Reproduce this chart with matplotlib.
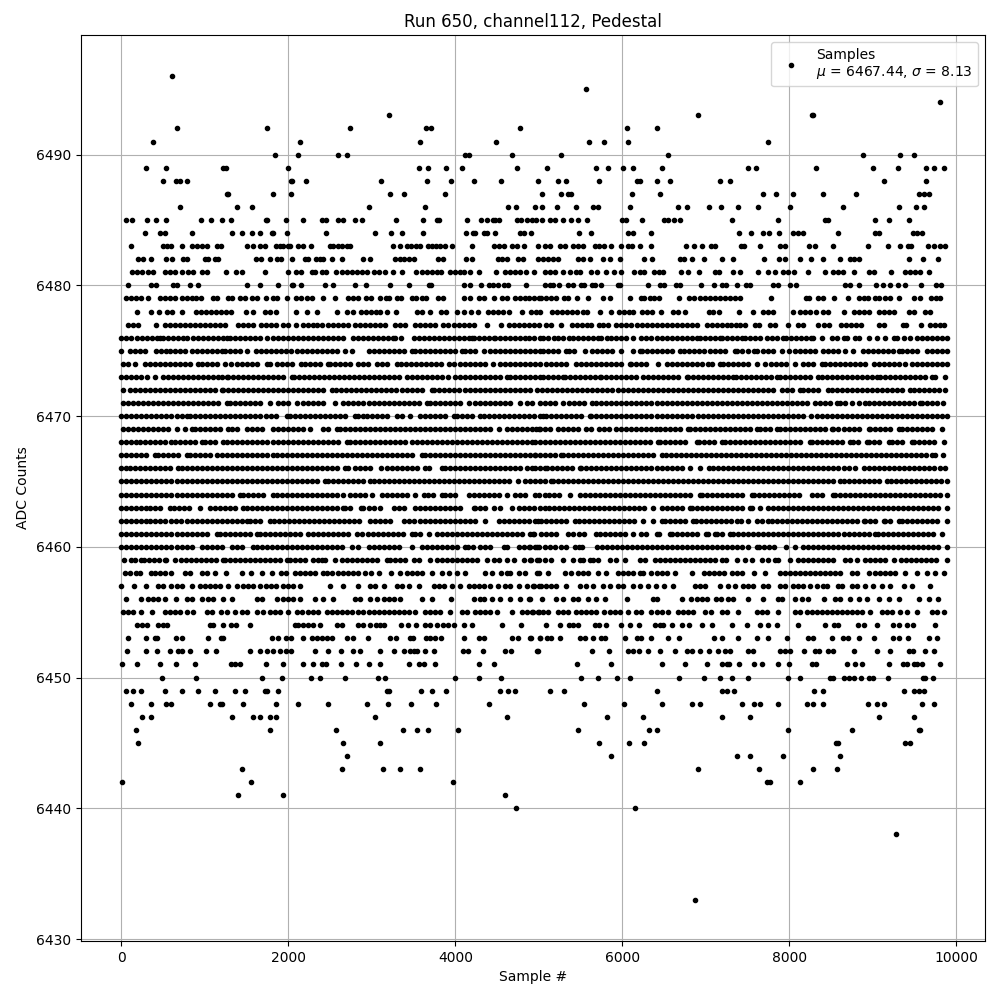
import matplotlib
matplotlib.use("Agg")
import matplotlib.pyplot as plt

# sample numbers in tens of samples, one list per ADC level
x_6496 = [61]
x_6495 = [556]
x_6494 = [981]
x_6493 = [320, 691, 827, 829]
x_6492 = [67, 175, 274, 365, 371, 478, 606, 642]
x_6491 = [38, 214, 358, 449, 560, 578, 607, 775]
x_6490 = [184, 212, 260, 270, 412, 416, 468, 526, 655, 888, 933, 950]
x_6489 = [29, 54, 122, 125, 199, 356, 367, 389, 408, 474, 510, 568, 583, 601, 613, 648, 751, 760, 832, 900, 930, 964, 974, 985]
x_6488 = [50, 65, 70, 78, 203, 204, 221, 311, 366, 395, 422, 455, 499, 523, 532, 572, 618, 621, 642, 657, 717, 729, 914, 964]
x_6487 = [126, 128, 181, 203, 322, 338, 388, 504, 526, 535, 538, 612, 645, 769, 784, 805, 841, 880, 956, 962, 968]
x_6486 = [70, 138, 156, 296, 364, 463, 473, 496, 504, 522, 544, 565, 571, 609, 667, 678, 704, 718, 739, 763, 801, 864, 932, 952, 961]
x_6485 = [6, 13, 31, 42, 53, 95, 107, 121, 131, 173, 174, 197, 217, 240, 245, 259, 265, 280, 288, 329, 361, 378, 380, 414, 431, 438, 445, 448, 452, 474, 479, 486, 492, 497, 504, 513, 519, 529, 538, 547, 558, 600, 605, 624, 650, 655, 662, 669, 732, 786, 843, 847, 903, 919, 944]
x_6484 = [28, 46, 52, 84, 132, 145, 157, 166, 180, 182, 198, 245, 304, 323, 336, 361, 413, 421, 424, 434, 438, 448, 478, 482, 491, 548, 562, 607, 613, 634, 740, 754, 768, 776, 788, 805, 811, 816, 859, 903, 907, 948, 953, 959]
x_6483 = [12, 50, 55, 60, 72, 85, 91, 97, 102, 114, 119, 151, 158, 166, 172, 185, 190, 194, 199, 202, 211, 218, 227, 250, 254, 259, 264, 270, 274, 325, 334, 342, 347, 353, 358, 367, 372, 377, 382, 388, 396, 420, 446, 452, 458, 468, 474, 482, 499, 508, 514, 525, 531, 541, 547, 553, 567, 572, 578, 586, 598, 607, 612, 621, 634, 676, 686, 696, 706, 711, 742, 746, 765, 789, 795, 824, 831, 852, 894, 918, 933, 942, 946, 966, 974, 980, 986]
x_6482 = [20, 26, 36, 53, 61, 74, 79, 100, 104, 112, 116, 161, 167, 178, 186, 191, 204, 220, 224, 233, 238, 242, 252, 264, 290, 298, 328, 334, 338, 344, 350, 379, 385, 413, 420, 451, 456, 462, 475, 481, 499, 505, 511, 517, 523, 547, 553, 561, 577, 585, 597, 626, 636, 669, 674, 684, 698, 720, 733, 770, 788, 795, 813, 826, 840, 861, 873, 878, 883, 943, 960, 978]
x_6481 = [13, 19, 25, 32, 38, 52, 58, 64, 73, 80, 86, 97, 102, 125, 137, 144, 172, 200, 209, 215, 228, 232, 240, 245, 257, 264, 270, 276, 282, 288, 294, 302, 308, 316, 325, 336, 353, 360, 366, 372, 378, 383, 394, 400, 406, 410, 418, 428, 449, 460, 466, 472, 478, 485, 494, 507, 513, 520, 529, 537, 544, 549, 562, 570, 580, 590, 598, 614, 621, 626, 638, 644, 649, 670, 679, 692, 711, 716, 733, 741, 763, 775, 783, 793, 798, 806, 822, 843, 853, 859, 864, 878, 895, 901, 922, 939, 945, 951, 957, 967]
x_6480 = [8, 35, 42, 62, 67, 82, 92, 150, 166, 187, 204, 206, 215, 244, 254, 280, 293, 322, 344, 368, 371, 410, 418, 431, 440, 445, 451, 458, 463, 485, 507, 513, 517, 524, 535, 541, 550, 554, 564, 567, 574, 595, 597, 631, 645, 650, 664, 669, 694, 710, 720, 724, 738, 748, 753, 780, 786, 801, 808, 867, 873, 883, 904, 912, 921, 930, 939, 958, 976, 982]
x_6479 = [6, 12, 18, 24, 32, 46, 52, 58, 64, 72, 78, 84, 89, 95, 110, 115, 128, 133, 142, 148, 157, 162, 173, 182, 186, 198, 209, 215, 222, 228, 241, 256, 272, 278, 284, 293, 299, 310, 317, 320, 330, 335, 348, 353, 360, 365, 379, 385, 410, 418, 428, 434, 446, 456, 462, 472, 478, 484, 488, 494, 500, 503, 509, 515, 521, 530, 535, 546, 559, 577, 585, 609, 622, 626, 633, 638, 644, 668, 680, 686, 693, 699, 705, 711, 717, 723, 729, 735, 741, 778, 820, 824, 834, 840, 854, 870, 883, 889, 894, 903, 907, 915, 921, 931, 949, 957, 970, 976, 980]
x_6478 = [19, 35, 45, 55, 61, 73, 89, 95, 101, 107, 113, 119, 125, 131, 149, 158, 172, 178, 185, 209, 222, 234, 258, 270, 277, 287, 293, 299, 305, 310, 318, 329, 354, 360, 370, 383, 389, 402, 410, 419, 427, 439, 445, 451, 457, 464, 480, 491, 497, 502, 516, 522, 528, 534, 540, 546, 553, 558, 573, 586, 596, 602, 608, 613, 624, 630, 636, 646, 661, 667, 675, 704, 709, 716, 740, 757, 768, 774, 780, 804, 813, 819, 825, 832, 841, 847, 865, 878, 884, 890, 895, 908, 914, 920, 926, 943, 949, 963, 969]
x_6477 = [8, 14, 20, 42, 52, 58, 64, 70, 76, 82, 88, 94, 100, 106, 112, 118, 124, 140, 146, 152, 158, 167, 173, 179, 185, 193, 199, 209, 217, 223, 229, 234, 240, 248, 254, 260, 266, 272, 280, 286, 292, 298, 304, 310, 316, 328, 334, 340, 352, 358, 364, 370, 376, 385, 391, 398, 404, 410, 416, 422, 438, 455, 464, 470, 476, 482, 488, 494, 500, 509, 515, 526, 540, 546, 552, 558, 562, 572, 577, 583, 592, 598, 604, 610, 618, 624, 630, 636, 642, 648, 654, 660, 666, 672, 678, 684, 690, 701, 707, 713, 719, 725, 730, 736, 741, 747, 759, 764, 777, 783, 799, 811, 817, 834, 842, 848, 862, 868, 874, 880, 886, 908, 914, 936, 940, 958, 969, 975, 981, 985]
x_6476 = [0, 6, 12, 19, 25, 31, 37, 43, 46, 50, 56, 62, 68, 74, 79, 86, 92, 98, 104, 110, 116, 122, 126, 130, 136, 142, 148, 154, 160, 166, 174, 182, 188, 194, 200, 206, 212, 218, 224, 230, 236, 242, 248, 254, 260, 266, 277, 283, 289, 295, 301, 307, 313, 319, 325, 328, 335, 350, 356, 362, 368, 374, 380, 386, 392, 398, 404, 410, 416, 420, 422, 428, 434, 440, 446, 448, 454, 460, 466, 472, 478, 484, 488, 494, 502, 505, 511, 518, 523, 529, 536, 541, 547, 553, 559, 565, 571, 575, 582, 587, 593, 599, 605, 613, 623, 629, 635, 641, 647, 653, 659, 665, 671, 677, 683, 689, 693, 699, 705, 711, 717, 720, 726, 732, 738, 744, 747, 753, 759, 765, 773, 779, 785, 793, 796, 802, 808, 814, 820, 826, 829, 839, 851, 857, 865, 869, 879, 883, 895, 905, 915, 925, 929, 937, 945, 953, 959, 965, 971, 977, 983, 989]
x_6475 = [0, 10, 16, 22, 28, 42, 48, 54, 58, 64, 70, 76, 84, 90, 96, 102, 108, 114, 120, 124, 130, 136, 142, 151, 161, 167, 173, 179, 185, 191, 197, 203, 210, 216, 222, 228, 234, 240, 246, 252, 258, 268, 276, 296, 302, 308, 314, 320, 326, 332, 338, 348, 352, 358, 364, 370, 376, 382, 388, 394, 400, 408, 412, 418, 424, 434, 442, 448, 454, 460, 466, 472, 478, 484, 490, 496, 502, 505, 511, 517, 523, 533, 536, 542, 555, 564, 570, 576, 582, 588, 599, 613, 621, 624, 630, 636, 642, 648, 654, 660, 669, 674, 680, 686, 692, 698, 705, 711, 717, 723, 735, 738, 744, 750, 758, 761, 768, 774, 780, 791, 800, 807, 813, 819, 825, 831, 840, 847, 853, 859, 867, 876, 888, 894, 900, 906, 912, 918, 924, 931, 935, 941, 947, 953, 965, 971, 977, 983, 989]
x_6474 = [2, 8, 16, 28, 34, 40, 46, 52, 58, 64, 70, 76, 82, 92, 96, 102, 108, 114, 124, 131, 138, 144, 150, 156, 162, 174, 178, 186, 192, 198, 204, 215, 220, 226, 232, 238, 248, 250, 256, 262, 268, 274, 284, 289, 295, 306, 312, 318, 330, 335, 341, 347, 353, 359, 365, 371, 377, 383, 392, 398, 406, 412, 418, 424, 430, 436, 445, 454, 460, 466, 472, 478, 484, 490, 496, 502, 509, 515, 521, 527, 533, 545, 550, 556, 562, 568, 574, 580, 586, 592, 598, 609, 611, 617, 623, 629, 643, 653, 659, 665, 671, 677, 683, 689, 695, 703, 707, 717, 721, 727, 733, 739, 745, 751, 761, 771, 778, 784, 790, 796, 807, 817, 823, 829, 839, 843, 849, 855, 861, 867, 873, 879, 885, 891, 901, 907, 913, 919, 925, 931, 939, 947, 953, 959, 965, 971, 977, 983, 989]
x_6473 = [0, 6, 12, 18, 24, 31, 40, 50, 56, 62, 68, 74, 80, 86, 92, 98, 104, 110, 116, 120, 126, 128, 134, 140, 146, 152, 158, 164, 170, 176, 182, 188, 194, 204, 207, 213, 219, 225, 231, 237, 243, 249, 255, 261, 267, 273, 279, 285, 291, 297, 303, 309, 315, 321, 327, 332, 342, 348, 354, 360, 366, 372, 378, 384, 391, 400, 406, 412, 418, 424, 430, 436, 442, 448, 454, 462, 466, 472, 478, 484, 490, 496, 502, 505, 511, 517, 523, 529, 531, 537, 543, 549, 555, 561, 567, 573, 575, 581, 587, 593, 599, 605, 611, 617, 625, 631, 637, 643, 649, 655, 661, 667, 677, 679, 685, 691, 697, 703, 709, 715, 721, 727, 733, 736, 742, 748, 754, 760, 766, 772, 778, 785, 789, 795, 801, 807, 813, 819, 825, 835, 839, 845, 851, 857, 863, 869, 875, 881, 887, 893, 899, 905, 909, 915, 921, 927, 933, 939, 945, 951, 957, 963, 971, 975, 987]
x_6472 = [2, 10, 16, 22, 28, 34, 40, 46, 52, 58, 64, 70, 76, 82, 88, 94, 100, 106, 112, 120, 122, 128, 134, 140, 146, 152, 158, 164, 170, 176, 182, 188, 194, 200, 206, 212, 218, 224, 230, 236, 242, 252, 257, 263, 269, 275, 281, 287, 293, 299, 305, 311, 317, 323, 329, 336, 342, 348, 354, 360, 372, 375, 381, 387, 393, 399, 405, 411, 417, 423, 429, 435, 441, 447, 453, 459, 465, 471, 477, 483, 489, 498, 504, 510, 516, 522, 528, 534, 540, 546, 552, 558, 564, 570, 576, 582, 588, 595, 601, 607, 613, 619, 625, 631, 637, 643, 649, 655, 661, 667, 673, 679, 685, 691, 697, 703, 709, 715, 721, 727, 733, 739, 745, 751, 757, 763, 769, 775, 781, 791, 797, 803, 813, 817, 823, 829, 835, 846, 851, 857, 863, 869, 875, 881, 887, 893, 899, 905, 911, 917, 923, 929, 935, 945, 949, 955, 961, 967, 973, 979, 987]
x_6471 = [2, 8, 14, 20, 26, 32, 38, 44, 50, 56, 62, 68, 74, 80, 86, 92, 98, 104, 110, 116, 126, 130, 136, 142, 148, 154, 160, 166, 178, 188, 194, 200, 210, 218, 224, 230, 236, 242, 256, 266, 272, 278, 284, 290, 296, 302, 308, 314, 320, 326, 332, 338, 344, 350, 356, 366, 370, 376, 382, 388, 394, 400, 406, 416, 424, 430, 436, 442, 448, 454, 460, 466, 478, 486, 492, 502, 508, 514, 520, 529, 536, 542, 548, 554, 564, 569, 575, 581, 587, 593, 599, 605, 611, 617, 623, 629, 635, 641, 647, 653, 659, 665, 671, 677, 683, 689, 695, 701, 707, 713, 719, 725, 731, 737, 743, 749, 755, 761, 767, 773, 779, 785, 791, 797, 803, 809, 815, 821, 831, 837, 843, 849, 857, 861, 867, 875, 883, 891, 895, 901, 907, 913, 919, 925, 931, 937, 943, 949, 957, 959, 965, 971, 977, 984]
x_6470 = [0, 6, 12, 18, 24, 30, 36, 42, 48, 54, 60, 66, 72, 78, 82, 88, 94, 100, 106, 112, 118, 124, 130, 136, 142, 148, 154, 160, 166, 173, 179, 185, 198, 202, 208, 214, 220, 226, 232, 238, 244, 250, 256, 262, 268, 280, 284, 290, 294, 300, 306, 312, 318, 330, 336, 346, 358, 364, 370, 376, 382, 388, 398, 402, 408, 414, 420, 430, 434, 440, 446, 452, 458, 464, 470, 476, 482, 488, 494, 502, 505, 509, 515, 521, 527, 533, 539, 545, 551, 561, 563, 569, 575, 581, 587, 593, 599, 605, 611, 617, 623, 629, 635, 641, 647, 653, 659, 665, 671, 677, 683, 691, 697, 703, 709, 715, 721, 727, 733, 739, 745, 751, 757, 763, 769, 775, 781, 787, 793, 799, 805, 811, 817, 826, 833, 839, 845, 851, 857, 863, 869, 875, 881, 887, 893, 899, 905, 911, 917, 923, 929, 935, 941, 947, 953, 959, 965, 971, 977, 983, 989]
x_6469 = [2, 8, 14, 20, 26, 32, 38, 44, 50, 56, 66, 76, 84, 88, 94, 100, 106, 112, 118, 128, 133, 139, 150, 156, 162, 168, 182, 187, 193, 199, 205, 211, 217, 226, 242, 248, 258, 262, 268, 274, 280, 286, 292, 298, 304, 310, 316, 322, 328, 334, 340, 346, 352, 358, 364, 370, 376, 382, 388, 394, 400, 406, 412, 418, 424, 430, 436, 442, 452, 462, 468, 474, 480, 486, 492, 500, 497, 501, 507, 513, 523, 529, 535, 541, 547, 557, 563, 572, 578, 584, 593, 598, 604, 610, 616, 622, 628, 634, 640, 645, 651, 657, 663, 669, 679, 681, 687, 693, 699, 705, 711, 717, 723, 729, 735, 741, 747, 753, 761, 765, 771, 777, 785, 789, 795, 801, 807, 813, 819, 825, 831, 837, 843, 851, 853, 859, 865, 871, 877, 883, 895, 897, 903, 909, 915, 921, 931, 935, 941, 947, 953, 959, 965, 971, 983]
x_6468 = [0, 6, 12, 18, 22, 28, 34, 40, 46, 52, 60, 64, 70, 76, 82, 88, 96, 100, 106, 112, 122, 127, 133, 139, 145, 151, 157, 163, 169, 175, 181, 187, 193, 199, 205, 211, 217, 223, 229, 235, 242, 248, 254, 260, 270, 274, 280, 286, 292, 298, 304, 310, 316, 322, 328, 334, 340, 348, 354, 360, 366, 372, 378, 384, 390, 396, 402, 408, 414, 420, 426, 432, 438, 444, 450, 456, 462, 468, 474, 480, 486, 492, 502, 495, 507, 513, 519, 525, 531, 537, 543, 549, 555, 561, 567, 573, 579, 585, 591, 597, 603, 609, 615, 621, 627, 633, 643, 645, 651, 657, 663, 669, 675, 689, 692, 698, 704, 710, 719, 723, 729, 735, 741, 747, 753, 759, 765, 771, 777, 783, 789, 795, 801, 807, 813, 825, 827, 833, 839, 845, 851, 857, 863, 873, 876, 882, 893, 896, 902, 908, 919, 923, 929, 935, 947, 949, 955, 961, 967, 973, 985]
x_6467 = [0, 6, 12, 18, 24, 30, 40, 44, 50, 56, 62, 68, 78, 82, 88, 94, 100, 106, 114, 120, 127, 133, 139, 145, 151, 157, 163, 169, 175, 182, 186, 192, 198, 204, 210, 216, 222, 228, 234, 240, 246, 252, 258, 264, 270, 276, 282, 288, 294, 300, 306, 312, 318, 324, 330, 336, 342, 348, 360, 364, 370, 376, 382, 388, 394, 400, 406, 412, 418, 424, 430, 436, 442, 448, 454, 460, 466, 472, 478, 484, 490, 496, 502, 495, 508, 514, 520, 527, 529, 535, 541, 547, 553, 559, 565, 571, 577, 583, 589, 595, 601, 607, 613, 619, 625, 631, 637, 648, 652, 658, 664, 670, 676, 682, 688, 694, 700, 706, 712, 718, 724, 730, 736, 742, 748, 754, 760, 766, 772, 778, 784, 790, 796, 802, 808, 814, 820, 826, 832, 838, 844, 850, 856, 862, 868, 874, 880, 886, 892, 898, 904, 910, 916, 922, 928, 934, 940, 946, 952, 958, 964, 971, 975, 984]
x_6466 = [0, 6, 10, 16, 22, 28, 34, 40, 46, 52, 58, 68, 72, 78, 84, 90, 96, 102, 108, 114, 120, 126, 132, 138, 144, 150, 156, 162, 168, 174, 180, 186, 192, 198, 204, 210, 216, 222, 228, 234, 240, 246, 252, 258, 268, 272, 280, 286, 292, 298, 311, 318, 324, 330, 336, 342, 348, 354, 364, 368, 384, 388, 394, 400, 406, 412, 418, 424, 430, 436, 442, 448, 454, 460, 466, 472, 478, 486, 492, 502, 495, 507, 510, 516, 522, 528, 534, 540, 549, 551, 557, 563, 569, 575, 581, 587, 593, 599, 605, 611, 617, 623, 629, 635, 641, 647, 653, 659, 665, 671, 681, 693, 704, 709, 715, 721, 727, 733, 739, 745, 751, 757, 763, 769, 775, 781, 787, 793, 799, 805, 811, 817, 823, 829, 835, 841, 847, 853, 859, 865, 871, 879, 890, 896, 902, 908, 914, 920, 926, 932, 938, 944, 950, 956, 962, 968, 974, 980, 987]
x_6465 = [0, 6, 12, 18, 24, 30, 36, 42, 48, 54, 60, 66, 72, 78, 84, 90, 96, 102, 108, 114, 120, 126, 132, 138, 144, 150, 156, 162, 168, 174, 180, 186, 192, 198, 204, 210, 216, 222, 228, 234, 244, 248, 254, 260, 266, 272, 278, 284, 290, 298, 302, 308, 314, 320, 326, 332, 338, 344, 350, 356, 362, 368, 374, 380, 386, 392, 398, 404, 410, 416, 422, 428, 434, 440, 446, 452, 458, 464, 475, 484, 490, 496, 502, 508, 515, 517, 523, 529, 535, 541, 547, 553, 559, 565, 571, 577, 583, 589, 595, 601, 607, 613, 619, 625, 631, 637, 643, 649, 655, 661, 667, 673, 679, 685, 691, 697, 703, 709, 715, 721, 727, 733, 739, 745, 751, 757, 763, 769, 775, 781, 787, 793, 799, 805, 811, 817, 823, 829, 835, 841, 847, 853, 861, 865, 871, 877, 883, 889, 895, 901, 907, 917, 922, 928, 934, 940, 946, 952, 958, 964, 970, 976, 982, 989]
x_6464 = [0, 6, 12, 18, 24, 30, 36, 42, 48, 54, 60, 66, 72, 78, 84, 90, 96, 102, 108, 114, 120, 126, 132, 142, 146, 152, 158, 164, 170, 182, 186, 192, 198, 204, 210, 216, 222, 228, 234, 240, 246, 252, 258, 266, 274, 280, 286, 292, 300, 312, 318, 324, 330, 336, 342, 352, 362, 367, 373, 384, 388, 394, 400, 416, 422, 428, 434, 440, 446, 452, 462, 472, 478, 484, 496, 500, 507, 512, 518, 524, 537, 549, 555, 561, 567, 573, 579, 585, 591, 597, 603, 609, 615, 621, 627, 633, 639, 645, 651, 657, 663, 669, 675, 681, 693, 696, 702, 708, 714, 720, 726, 732, 738, 744, 755, 758, 764, 770, 776, 782, 788, 794, 800, 806, 812, 827, 833, 839, 852, 855, 861, 867, 873, 879, 885, 891, 897, 903, 909, 915, 921, 927, 933, 939, 945, 951, 957, 963, 969, 975, 981, 989]
x_6463 = [0, 6, 12, 18, 24, 30, 34, 40, 46, 58, 63, 69, 75, 81, 94, 106, 112, 118, 124, 130, 136, 146, 150, 156, 162, 168, 174, 180, 186, 192, 198, 204, 210, 216, 222, 228, 234, 240, 246, 252, 258, 266, 268, 274, 287, 290, 296, 302, 310, 326, 332, 338, 352, 358, 364, 370, 376, 382, 388, 394, 400, 406, 422, 424, 430, 436, 446, 454, 468, 476, 482, 488, 494, 502, 507, 512, 518, 524, 530, 536, 542, 548, 554, 560, 566, 572, 578, 584, 590, 596, 602, 608, 614, 620, 626, 637, 647, 653, 659, 665, 671, 681, 684, 690, 696, 702, 708, 714, 720, 726, 732, 738, 744, 753, 755, 765, 774, 780, 786, 792, 798, 804, 810, 816, 822, 828, 834, 840, 846, 852, 858, 864, 870, 876, 882, 888, 894, 900, 906, 912, 918, 924, 930, 936, 942, 948, 954, 960, 966, 972, 978, 989]
x_6462 = [0, 6, 12, 18, 24, 30, 34, 40, 46, 52, 59, 65, 71, 79, 84, 90, 96, 102, 108, 114, 120, 126, 132, 138, 144, 151, 154, 160, 166, 178, 183, 189, 195, 201, 207, 213, 219, 225, 231, 237, 243, 249, 255, 261, 267, 273, 279, 285, 298, 304, 310, 316, 322, 338, 344, 351, 358, 364, 370, 376, 382, 388, 394, 400, 406, 412, 418, 424, 436, 452, 458, 464, 470, 476, 482, 488, 495, 499, 503, 509, 515, 521, 527, 533, 543, 548, 554, 560, 566, 572, 578, 584, 590, 596, 602, 608, 614, 625, 637, 647, 651, 657, 663, 669, 675, 685, 688, 694, 700, 706, 712, 718, 724, 730, 737, 742, 751, 761, 767, 775, 779, 785, 791, 797, 803, 809, 815, 821, 827, 833, 839, 845, 851, 857, 863, 869, 875, 881, 889, 891, 897, 903, 913, 915, 921, 931, 935, 941, 947, 953, 959, 965, 971, 977, 989]
x_6461 = [0, 6, 12, 18, 24, 30, 36, 42, 48, 54, 60, 66, 72, 78, 84, 90, 96, 102, 114, 118, 124, 130, 136, 142, 148, 154, 162, 166, 172, 178, 184, 190, 196, 202, 208, 214, 224, 230, 236, 242, 248, 254, 260, 266, 272, 282, 288, 295, 301, 307, 313, 319, 325, 331, 337, 348, 352, 358, 368, 378, 384, 390, 396, 402, 408, 414, 420, 426, 432, 438, 444, 450, 456, 462, 468, 474, 480, 490, 494, 493, 503, 509, 515, 521, 535, 541, 548, 554, 569, 573, 579, 585, 591, 597, 603, 613, 623, 629, 641, 644, 657, 660, 666, 672, 678, 684, 690, 700, 703, 711, 714, 720, 729, 733, 739, 745, 751, 757, 763, 769, 775, 781, 787, 793, 799, 805, 811, 817, 823, 829, 835, 841, 847, 853, 859, 865, 871, 877, 883, 889, 895, 903, 906, 912, 918, 924, 930, 936, 942, 948, 954, 960, 966, 972, 983]
x_6460 = [0, 6, 12, 18, 24, 30, 36, 42, 48, 54, 60, 66, 72, 78, 84, 96, 102, 108, 114, 120, 132, 138, 144, 158, 162, 168, 174, 180, 186, 192, 198, 204, 210, 216, 222, 228, 234, 240, 246, 252, 258, 264, 276, 284, 296, 302, 308, 314, 320, 326, 332, 348, 360, 366, 372, 378, 384, 390, 396, 402, 411, 415, 421, 430, 436, 442, 458, 462, 476, 482, 488, 496, 500, 489, 498, 507, 514, 520, 526, 532, 543, 548, 552, 570, 576, 582, 588, 594, 600, 606, 612, 618, 624, 630, 636, 642, 648, 654, 660, 666, 672, 678, 684, 690, 696, 702, 708, 714, 720, 726, 732, 738, 744, 750, 761, 764, 770, 776, 782, 796, 807, 816, 822, 828, 834, 840, 846, 852, 858, 864, 870, 876, 882, 888, 894, 900, 906, 912, 918, 924, 930, 936, 942, 948, 954, 960, 966, 972, 978, 989]
x_6459 = [3, 11, 16, 24, 27, 33, 39, 45, 52, 54, 64, 71, 77, 83, 89, 95, 101, 107, 113, 122, 124, 130, 136, 142, 148, 154, 160, 166, 172, 178, 184, 190, 198, 202, 208, 214, 220, 230, 235, 240, 244, 256, 264, 270, 276, 282, 288, 294, 300, 306, 318, 322, 328, 334, 340, 351, 356, 370, 378, 384, 390, 396, 402, 408, 414, 420, 426, 438, 446, 452, 462, 470, 482, 490, 500, 491, 498, 508, 515, 529, 541, 549, 553, 561, 565, 571, 585, 592, 603, 621, 627, 639, 645, 651, 657, 663, 669, 675, 681, 687, 693, 699, 705, 711, 719, 724, 738, 747, 755, 767, 774, 783, 787, 801, 811, 817, 823, 829, 835, 841, 847, 853, 867, 873, 881, 891, 897, 903, 909, 915, 925, 934, 940, 946, 952, 958, 964, 970, 976, 989]
x_6458 = [4, 10, 18, 22, 36, 40, 46, 52, 60, 76, 82, 96, 102, 112, 125, 144, 155, 168, 180, 191, 197, 208, 214, 220, 226, 232, 242, 246, 252, 260, 266, 272, 278, 284, 292, 299, 308, 323, 334, 342, 348, 354, 360, 372, 384, 392, 402, 412, 435, 444, 455, 462, 466, 476, 484, 500, 498, 511, 531, 538, 547, 553, 559, 571, 581, 595, 601, 607, 613, 621, 625, 635, 641, 647, 653, 663, 684, 698, 704, 710, 716, 722, 731, 738, 744, 758, 771, 789, 795, 801, 807, 813, 819, 825, 831, 837, 843, 849, 855, 861, 875, 881, 895, 903, 909, 915, 921, 927, 939, 953, 965, 975, 985]
x_6457 = [0, 15, 30, 44, 50, 60, 66, 72, 84, 94, 100, 106, 112, 118, 128, 138, 146, 152, 158, 166, 173, 179, 185, 194, 200, 206, 214, 250, 265, 284, 298, 304, 314, 330, 336, 344, 356, 374, 380, 386, 396, 406, 416, 422, 428, 434, 442, 451, 459, 465, 476, 486, 494, 500, 493, 503, 509, 515, 521, 533, 549, 557, 565, 577, 585, 595, 601, 613, 621, 631, 640, 650, 661, 687, 693, 699, 717, 727, 735, 745, 751, 757, 769, 775, 789, 795, 805, 811, 817, 825, 833, 841, 845, 859, 863, 875, 881, 891, 900, 911, 921, 937, 947, 969]
x_6456 = [6, 24, 32, 38, 44, 52, 65, 79, 84, 96, 104, 110, 122, 133, 163, 169, 186, 194, 200, 206, 214, 232, 242, 254, 280, 286, 298, 306, 314, 320, 326, 334, 360, 372, 395, 422, 430, 434, 444, 454, 466, 478, 488, 489, 504, 521, 529, 541, 547, 559, 569, 579, 606, 637, 641, 672, 682, 689, 695, 701, 712, 718, 727, 733, 750, 769, 787, 791, 807, 815, 823, 842, 855, 861, 873, 883, 893, 908, 919, 932, 956, 967, 978]
x_6455 = [2, 8, 14, 23, 37, 52, 58, 64, 70, 79, 86, 102, 108, 119, 126, 136, 144, 151, 162, 170, 178, 184, 190, 199, 210, 216, 224, 230, 236, 246, 252, 258, 264, 270, 276, 284, 290, 296, 302, 308, 314, 320, 326, 332, 338, 344, 352, 364, 370, 376, 382, 394, 408, 414, 424, 430, 436, 442, 450, 468, 480, 486, 492, 500, 493, 499, 505, 511, 523, 529, 535, 545, 551, 557, 563, 568, 578, 585, 591, 597, 607, 617, 623, 635, 641, 647, 655, 667, 673, 679, 685, 699, 706, 719, 725, 739, 761, 767, 773, 787, 807, 813, 821, 827, 833, 839, 845, 851, 857, 863, 869, 875, 881, 887, 897, 911, 917, 923, 933, 941, 953, 971, 977, 985]
x_6454 = [19, 25, 31, 44, 50, 55, 106, 110, 122, 131, 137, 154, 208, 212, 218, 224, 230, 238, 258, 264, 283, 290, 298, 305, 310, 314, 335, 343, 353, 364, 370, 378, 385, 391, 398, 410, 420, 456, 479, 509, 525, 536, 541, 547, 567, 572, 581, 599, 609, 620, 639, 645, 649, 660, 672, 680, 695, 708, 731, 749, 765, 774, 785, 811, 843, 854, 858, 882, 890, 905, 924, 931, 941, 948, 975]
x_6453 = [8, 29, 40, 43, 65, 72, 104, 119, 122, 180, 188, 197, 203, 217, 228, 234, 240, 246, 252, 270, 277, 295, 322, 329, 346, 349, 365, 370, 376, 383, 410, 428, 434, 468, 475, 491, 502, 490, 501, 510, 515, 525, 549, 555, 565, 575, 579, 603, 618, 623, 635, 655, 668, 710, 720, 739, 761, 774, 797, 823, 829, 851, 864, 870, 883, 901, 924, 932, 942, 968, 977]
x_6452 = [7, 30, 43, 58, 68, 72, 82, 101, 113, 154, 166, 174, 181, 190, 197, 203, 232, 247, 263, 278, 286, 310, 326, 338, 346, 350, 354, 364, 374, 409, 415, 433, 460, 467, 499, 498, 564, 584, 607, 613, 620, 631, 645, 663, 678, 684, 693, 704, 715, 723, 729, 750, 756, 789, 795, 801, 818, 831, 836, 846, 853, 877, 905, 921, 943, 948, 963, 973]
x_6451 = [1, 19, 46, 65, 88, 131, 136, 142, 173, 194, 218, 229, 240, 245, 263, 281, 296, 310, 344, 356, 362, 376, 428, 446, 546, 587, 648, 675, 702, 719, 725, 728, 740, 758, 767, 786, 800, 827, 832, 869, 879, 887, 920, 936, 941, 949, 953, 959, 980]
x_6450 = [49, 89, 168, 192, 227, 238, 268, 307, 316, 400, 428, 455, 551, 571, 594, 609, 668, 698, 717, 732, 751, 798, 813, 849, 852, 865, 872, 877, 886, 896, 900, 918, 960, 963, 972]
x_6449 = [6, 14, 24, 52, 73, 92, 112, 136, 148, 172, 175, 187, 318, 320, 359, 372, 389, 454, 463, 472, 513, 530, 641, 719, 726, 734, 830, 840, 937, 949, 956, 961]
x_6448 = [11, 35, 54, 60, 106, 118, 121, 146, 185, 212, 247, 294, 319, 347, 377, 440, 554, 602, 647, 683, 693, 743, 758, 765, 786, 821, 828, 840, 894, 905, 914, 959, 974]
x_6447 = [25, 36, 132, 158, 166, 178, 185, 304, 462, 582, 625, 720, 753, 908, 950]
x_6446 = [17, 178, 257, 337, 354, 367, 403, 547, 632, 642, 798, 875, 955, 957]
x_6445 = [20, 265, 310, 572, 608, 626, 856, 859, 939, 945]
x_6444 = [270, 587, 737, 753, 793, 861]
x_6443 = [144, 264, 313, 334, 358, 691, 764, 828, 857]
x_6442 = [1, 155, 397, 773, 777, 813]
x_6441 = [140, 193, 460]
x_6440 = [473, 615]
x_6438 = [928]
x_6433 = [687]

levels = [6496, 6495, 6494, 6493, 6492, 6491, 6490, 6489, 6488, 6487, 6486, 6485, 6484, 6483, 6482, 6481, 6480, 6479, 6478, 6477, 6476, 6475, 6474, 6473, 6472, 6471, 6470, 6469, 6468, 6467, 6466, 6465, 6464, 6463, 6462, 6461, 6460, 6459, 6458, 6457, 6456, 6455, 6454, 6453, 6452, 6451, 6450, 6449, 6448, 6447, 6446, 6445, 6444, 6443, 6442, 6441, 6440, 6438, 6433]
rows = [x_6496, x_6495, x_6494, x_6493, x_6492, x_6491, x_6490, x_6489, x_6488, x_6487, x_6486, x_6485, x_6484, x_6483, x_6482, x_6481, x_6480, x_6479, x_6478, x_6477, x_6476, x_6475, x_6474, x_6473, x_6472, x_6471, x_6470, x_6469, x_6468, x_6467, x_6466, x_6465, x_6464, x_6463, x_6462, x_6461, x_6460, x_6459, x_6458, x_6457, x_6456, x_6455, x_6454, x_6453, x_6452, x_6451, x_6450, x_6449, x_6448, x_6447, x_6446, x_6445, x_6444, x_6443, x_6442, x_6441, x_6440, x_6438, x_6433]

f, ax = plt.subplots(figsize=(10, 10), dpi=100)
xs = []
ys = []
for lev, row in zip(levels, rows):
    xs += [10 * v for v in row]
    ys += [lev] * len(row)
ax.plot(xs, ys, "k.", label="Samples\n$\\mu$ = 6467.44, $\\sigma$ = 8.13")
ax.set_xlim(-490, 10345)
ax.set_ylim(6429.85, 6499.15)
ax.set_title("Run 650, channel112, Pedestal")
ax.set_xlabel("Sample #")
ax.set_ylabel("ADC Counts")
ax.grid(True)
ax.legend(loc="upper right")
f.subplots_adjust(left=0.0805, right=0.985, top=0.965, bottom=0.059)
f.savefig("out.png")
